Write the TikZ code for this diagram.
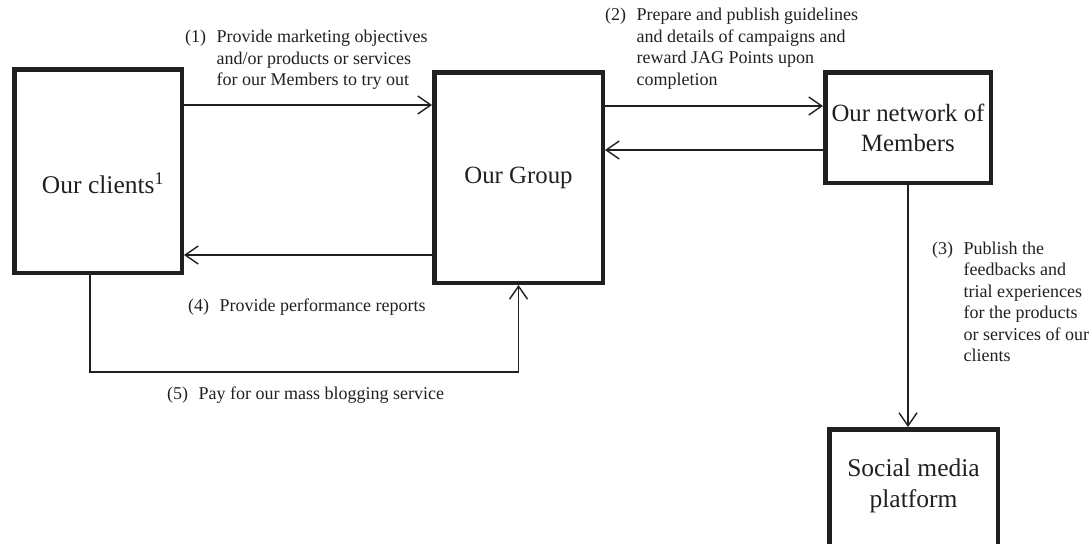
\documentclass[tikz,border=0pt]{standalone}
\usepackage{fontspec}
\setmainfont{Liberation Serif}
\usetikzlibrary{arrows.meta}
\definecolor{ink}{HTML}{231F20}

% numbered step label: number in a fixed-width column, wrapped lines hang after it
\newcommand{\steplabel}[2]{%
  \begin{tabular}[t]{@{}l@{}l@{}}\makebox[31.5pt][l]{#1} & #2\end{tabular}}

\begin{document}
\begin{tikzpicture}[x=1pt,y=-1pt,
  box/.style={draw=ink, line width=4.5pt, rectangle, inner sep=0pt, text=ink,
              font=\fontsize{24.8}{30}\selectfont, align=center},
  boxtext/.style={text=ink, font=\fontsize{25.5}{31}\selectfont, align=center},
  arr/.style={draw=ink, line width=1.4pt,
              -{Straight Barb[length=13pt,width=18pt,line width=1.4pt]}},
  lbl/.style={anchor=base west, inner sep=0pt, text=ink,
              font=\fontsize{18}{21.5}\selectfont}]

\useasboundingbox (0,0) rectangle (1091,543);

% boxes
\node[box, minimum width=167.5pt, minimum height=203.5pt,
      label={[boxtext, xshift=5pt, yshift=-12.5pt]center:Our clients\textsuperscript{1}}]
      (clients) at (98,171) {};
\node[box, minimum width=168.5pt, minimum height=210.5pt] (group) at (518.5,177.5) {Our Group};
\node[box, minimum width=165.5pt, minimum height=110.5pt] (members) at (908,127.5)
      {Our network of\\Members};
\node[box, minimum width=168.5pt, minimum height=128.5pt,
      label={[boxtext, yshift=8pt]center:Social media\\platform}]
      (social) at (913.5,493.5) {};

% flows between the parties
\draw[arr] (clients.east |- 0,105) -- (group.west |- 0,105);
\draw[arr] (group.east |- 0,106) -- (members.west |- 0,106);
\draw[arr] (members.west |- 0,150) -- (group.east |- 0,150);
\draw[arr] (group.west |- 0,255) -- (clients.east |- 0,255);
\draw[arr] (members.south) -- (members.south |- social.north);
\coordinate (payL) at (90,372);
\coordinate (payR) at (518.5,372);
\draw[arr] (clients.south -| payL) -- (payL) -- (payR) -- (group.south);

% step labels
\node[lbl] (l1) at (185,42.5) {\steplabel{(1)}{Provide marketing objectives\\ & and/or products or services\\ & for our Members to try out}};
\node[lbl] (l2) at (605,21) {\steplabel{(2)}{Prepare and publish guidelines\\ & and details of campaigns and\\ & reward JAG Points upon\\ & completion}};
\node[lbl] (l3) at (932,254) {\steplabel{(3)}{Publish the\\ & feedbacks and\\ & trial experiences\\ & for the products\\ & or services of our\\ & clients}};
\node[lbl] (l4) at (188,311) {\steplabel{(4)}{Provide performance reports}};
\node[lbl] (l5) at (167,399) {\steplabel{(5)}{Pay for our mass blogging service}};

\end{tikzpicture}
\end{document}
